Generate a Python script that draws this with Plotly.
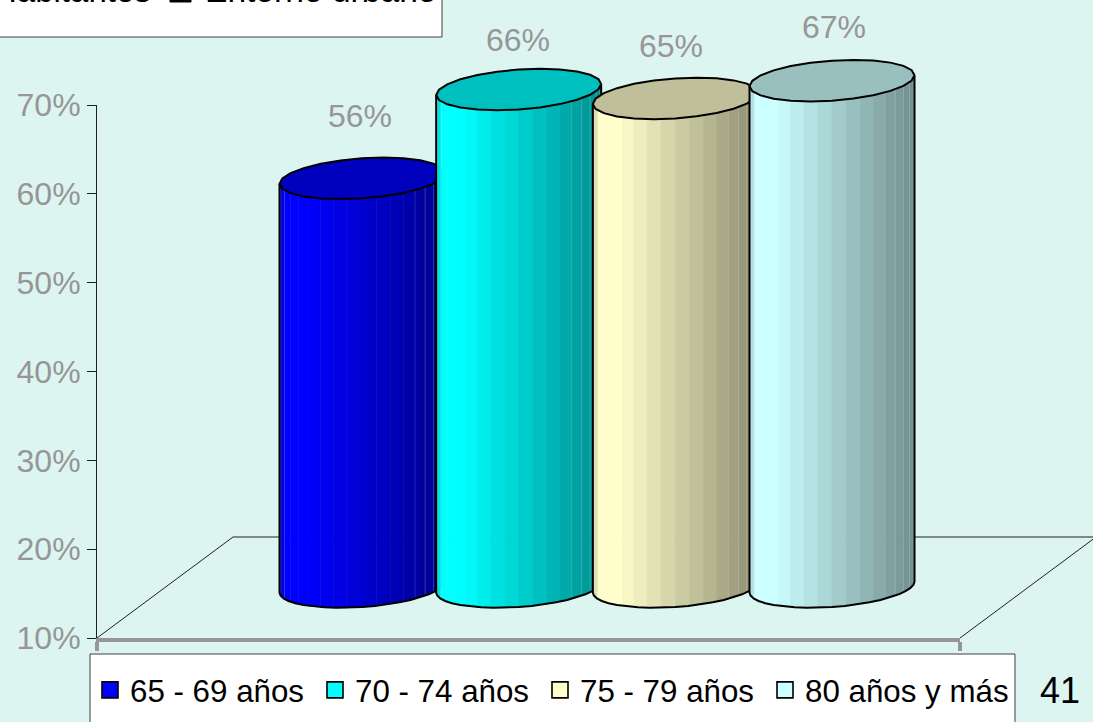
import math
import plotly.graph_objects as go

# ---- data ----
categories = ["65 - 69 años", "70 - 74 años", "75 - 79 años", "80 años y más"]
values = [56, 66, 65, 67]
value_labels = ["56%", "66%", "65%", "67%"]
y_tickvals = [10, 20, 30, 40, 50, 60, 70]
y_ticktext = ["10%", "20%", "30%", "40%", "50%", "60%", "70%"]
slots = [0, 1, 2, 3]

# ---- style ----
W, H = 1093, 722
BG = "#DDF5F1"
GREY = "#969696"
FONT = "Liberation Sans"
base_rgb = [(0, 0, 255), (0, 255, 255), (255, 255, 204), (204, 255, 255)]
label_dx = [-2, -1, -4, 2]
label_dy = [62, 50, 52, 54]

# ---- axes geometry (pixels on the page) ----
AX_L, AX_R, AX_T, AX_B = 97, 960, 105, 638
CAT_PX = 156.67
FIRST_CX = 362
Y_MIN, Y_MAX = 10, 70
PX_PER_UNIT = (AX_B - AX_T) / (Y_MAX - Y_MIN)
x_range = [(AX_L - FIRST_CX) / CAT_PX, (AX_R - FIRST_CX) / CAT_PX]
# same scales stretched over the whole page, so the marks may leave the axis box
x2_range = [(0 - FIRST_CX) / CAT_PX, (W - FIRST_CX) / CAT_PX]
y2_range = [Y_MIN - (H - AX_B) / PX_PER_UNIT, Y_MAX + AX_T / PX_PER_UNIT]

# 3-D floor depth, in axis units
DEPTH_X = 136 / CAT_PX
DEPTH_Y = 101 / PX_PER_UNIT
CYL_LIFT = 51 / PX_PER_UNIT      # centre of cylinder base above the front edge
RX = 82.5 / CAT_PX
RY = 20 / PX_PER_UNIT
TILT = 5.5 / PX_PER_UNIT
N_STRIPS = 18


def ell(cx, cy, th):
    return cx + RX * math.cos(th), cy - RY * math.sin(th) + TILT * math.cos(th)


def shade(rgb, u):
    """u = 0 left silhouette, 1 right silhouette."""
    if u < 0.03:
        f = 0.88
    elif u < 0.16:
        f = 1.0
    else:
        f = 1.0 - 0.53 * (u - 0.16)
    return tuple(round(c * f) for c in rgb)


def css(c):
    return "rgb(%d,%d,%d)" % tuple(c)


fig = go.Figure()

# floor outline
floor_x = [x_range[0], x_range[0] + DEPTH_X, x_range[1] + DEPTH_X, x_range[1]]
floor_y = [Y_MIN, Y_MIN + DEPTH_Y, Y_MIN + DEPTH_Y, Y_MIN]
fig.add_trace(go.Scatter(x=floor_x, y=floor_y, mode="lines", xaxis="x2", yaxis="y2",
                         line=dict(color="#202020", width=1), showlegend=False, hoverinfo="skip"))

# cylinders, left to right so each overlaps the previous one
for slot, val, rgb in zip(slots, values, base_rgb):
    top = val + CYL_LIFT
    bot = Y_MIN + CYL_LIFT
    # body strips
    for s in range(N_STRIPS):
        t0 = math.pi * (1 - s / N_STRIPS)
        t1 = math.pi * (1 - (s + 1) / N_STRIPS)
        xa, ya = ell(slot, top, t0)
        xb, yb = ell(slot, top, t1)
        xc, yc = ell(slot, bot, t1)
        xd, yd = ell(slot, bot, t0)
        u = ((xa + xb) / 2 - (slot - RX)) / (2 * RX)
        col = shade(rgb, u)
        # the narrow facets near both rims show a faint lighter seam
        seam = u < 0.06 or u > 0.8
        edge = tuple(round(c + (255 - c) * 0.22) for c in col) if seam else col
        fig.add_trace(go.Scatter(x=[xa, xb, xc, xd, xa], y=[ya, yb, yc, yd, ya],
                                 mode="lines", fill="toself", fillcolor=css(col),
                                 xaxis="x2", yaxis="y2",
                                 line=dict(color=css(edge), width=0.6),
                                 showlegend=False, hoverinfo="skip"))
    # silhouette outline
    ths = [math.pi * (1 - i / 20) for i in range(21)]
    out = [ell(slot, top, math.pi)] + [ell(slot, bot, t) for t in ths] + [ell(slot, top, 0)]
    fig.add_trace(go.Scatter(x=[p[0] for p in out], y=[p[1] for p in out], mode="lines",
                             xaxis="x2", yaxis="y2", line=dict(color="black", width=2),
                             showlegend=False, hoverinfo="skip"))
    # top cap
    cap = [ell(slot, top, 2 * math.pi * i / 24) for i in range(25)]
    capcol = css(round(c * 0.75) for c in rgb)
    fig.add_trace(go.Scatter(x=[p[0] for p in cap], y=[p[1] for p in cap], mode="lines",
                             fill="toself", fillcolor=capcol, xaxis="x2", yaxis="y2",
                             line=dict(color="black", width=2), showlegend=False, hoverinfo="skip"))

# legend-only entries (they also keep the visible axes x / y alive)
legend_widths = [180, 180, 180, 214]
for name, rgb, lw in zip(categories, base_rgb, legend_widths):
    fig.add_trace(go.Scatter(x=[None], y=[None], mode="markers", name=name, legendwidth=lw,
                             marker=dict(symbol="square", size=18, color=css(rgb),
                                         line=dict(color="black", width=1.6))))

# value labels
for slot, val, lab, dx, dy in zip(slots, values, value_labels, label_dx, label_dy):
    fig.add_annotation(x=slot, y=val + CYL_LIFT, xref="x2", yref="y2", text=lab, showarrow=False,
                       xshift=dx, yshift=dy, font=dict(family=FONT, size=32, color=GREY))


def py(px):
    return 1 - px / H


def pxx(px):
    return px / W


# top clipped legend box + legend box + page number
shapes = [
    dict(type="rect", xref="paper", yref="paper", x0=pxx(-3), x1=pxx(442), y0=py(37), y1=py(-5),
         fillcolor="white", line=dict(color="#404040", width=1)),
    dict(type="rect", xref="paper", yref="paper", x0=pxx(170), x1=pxx(191), y0=py(2), y1=py(-20),
         fillcolor="black", line=dict(color="black", width=1)),
    dict(type="rect", xref="paper", yref="paper", x0=pxx(90), x1=pxx(1015), y0=py(725), y1=py(654),
         fillcolor="white", line=dict(color="#404040", width=1)),
]
fig.add_annotation(xref="paper", yref="paper", x=pxx(-8), y=py(10), xanchor="left", yanchor="bottom",
                   text="Habitantes", showarrow=False, borderpad=0,
                   font=dict(family=FONT, size=33, color="black"))
fig.add_annotation(xref="paper", yref="paper", x=pxx(204), y=py(10), xanchor="left", yanchor="bottom",
                   text="Entorno urbano", showarrow=False, borderpad=0,
                   font=dict(family=FONT, size=33.6, color="black"))
fig.add_annotation(xref="paper", yref="paper", x=pxx(1060), y=py(690), xanchor="center", yanchor="middle",
                   text="41", showarrow=False, font=dict(family=FONT, size=36, color="black"))

fig.update_layout(
    width=W, height=H, autosize=False,
    margin=dict(l=0, r=0, t=0, b=0, pad=0, autoexpand=False),
    paper_bgcolor=BG, plot_bgcolor="rgba(0,0,0,0)",
    shapes=shapes,
    font=dict(family=FONT),
    legend=dict(orientation="h", x=pxx(90), y=py(663), xanchor="left", yanchor="top",
                bgcolor="rgba(0,0,0,0)", borderwidth=0,
                font=dict(family=FONT, size=31.3, color="black")),
    xaxis=dict(domain=[AX_L / W, AX_R / W], range=x_range, showgrid=False, zeroline=False,
               showline=True, linecolor=GREY, linewidth=4, ticks="outside",
               tickvals=x_range, ticklen=9, tickwidth=4, tickcolor=GREY, showticklabels=False),
    yaxis=dict(domain=[1 - AX_B / H, 1 - AX_T / H], range=[Y_MIN, Y_MAX], showgrid=False, zeroline=False,
               showline=True, linecolor="#202020", linewidth=1, ticks="outside",
               tickvals=y_tickvals, ticktext=y_ticktext, ticklen=9, tickwidth=1, tickcolor="#202020",
               tickfont=dict(family=FONT, size=32, color=GREY)),
    xaxis2=dict(domain=[0, 1], range=x2_range, visible=False, anchor="y2"),
    yaxis2=dict(domain=[0, 1], range=y2_range, visible=False, anchor="x2"),
)

fig.write_html("out.html", config=dict(displayModeBar=False),
               post_script="document.body.style.margin='0';document.body.style.overflow='hidden';")
